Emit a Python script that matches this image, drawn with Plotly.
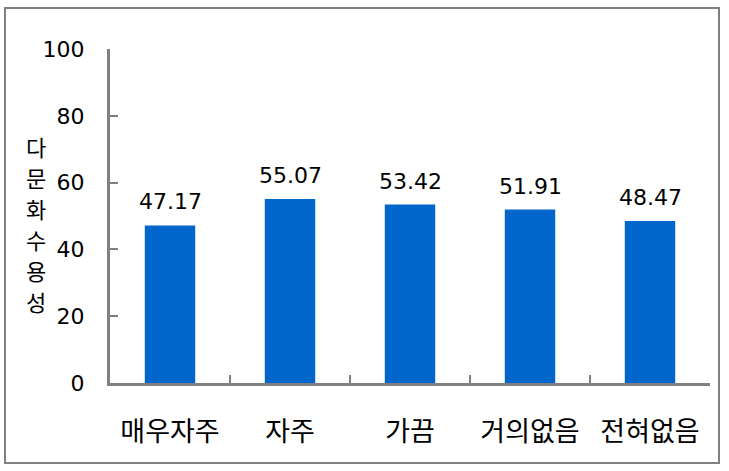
import plotly.graph_objects as go

categories = ["매우자주", "자주", "가끔", "거의없음", "전혀없음"]
values = [47.17, 55.07, 53.42, 51.91, 48.47]
labels = ["47.17", "55.07", "53.42", "51.91", "48.47"]
y_title = "다문화수용성"

W, H = 729, 471
L, R, T, B = 110, 19, 49, 88
pw, ph = W - L - R, H - T - B

KFONT = "Noto Sans CJK KR"
NFONT = "DejaVu Sans"
GRAY = "#808080"

def px_x(p):
    return (p - L) / pw

def px_y(p):
    return (H - B - p) / ph

fig = go.Figure()
fig.add_trace(go.Bar(x=categories, y=values, width=0.42, marker=dict(color="#0066CC", line=dict(width=0)),
                     hoverinfo="skip"))

for c, v, t in zip(categories, values, labels):
    fig.add_annotation(x=c, y=v, text=t, showarrow=False, yanchor="bottom", yshift=9,
                       font=dict(family=NFONT, size=22, color="black"))

for i, ch in enumerate(y_title):
    fig.add_annotation(xref="paper", yref="paper", x=px_x(36), y=px_y(146 + 31 * i),
                       text=ch, showarrow=False, xanchor="center", yanchor="middle",
                       font=dict(family=KFONT, size=22, color="black"))

fig.add_shape(type="rect", xref="paper", yref="paper", x0=px_x(5), x1=px_x(719), y0=px_y(463), y1=px_y(8),
              line=dict(color=GRAY, width=2), layer="below")

fig.update_layout(
    width=W, height=H, margin=dict(l=L, r=R, t=T, b=B),
    plot_bgcolor="white", paper_bgcolor="white", showlegend=False,
    xaxis=dict(showline=True, linecolor=GRAY, linewidth=3, ticks="inside", tickson="boundaries",
               ticklen=8, tickwidth=2, tickcolor=GRAY, showgrid=False,
               tickfont=dict(family=KFONT, size=27, color="black"), ticklabelstandoff=23),
    yaxis=dict(range=[0, 100], dtick=20, showline=True, linecolor=GRAY, linewidth=3, ticks="inside",
               ticklen=8, tickwidth=2, tickcolor=GRAY, showgrid=False, zeroline=False,
               tickfont=dict(family=NFONT, size=22, color="black"), ticklabelstandoff=18),
)

fig.write_html("out.html")
